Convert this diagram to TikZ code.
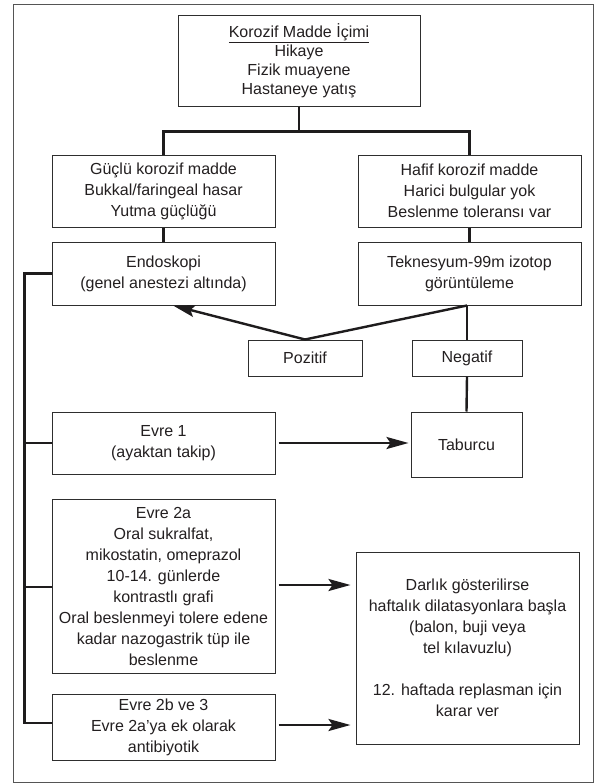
\documentclass[tikz,border=0pt]{standalone}
\usepackage{fontspec}
\setmainfont{Liberation Sans}
\usetikzlibrary{arrows.meta}
\definecolor{boxc}{HTML}{2E2E2E}
\definecolor{lnc}{HTML}{1E1C1D}
\definecolor{txt}{HTML}{231F20}
\definecolor{framec}{HTML}{555555}
\begin{document}
\begin{tikzpicture}[x=1pt,y=-1pt,
  box/.style={draw=boxc, line width=1pt, align=center, inner sep=0pt, text=txt,
    font=\fontsize{16}{21}\selectfont},
  conn/.style={draw=lnc, line width=2.4pt},
  arr/.style={conn, -{Stealth[length=22pt,width=12pt,inset=4pt]}},
]
\useasboundingbox (0,0) rectangle (595,784);
\fill[white] (0,0) rectangle (595,784);
\draw[framec, line width=1pt] (13.5,4.5) rectangle (593,782.5);

\node[box, minimum width=242pt, minimum height=90pt, font=\fontsize{16}{19}\selectfont] (top) at (299,61)
  {\underline{Korozif Madde İçimi}\\Hikaye\\Fizik muayene\\Hastaneye yatış};
\node[box, minimum width=223pt, minimum height=72pt] (G) at (163.5,191)
  {Güçlü korozif madde\\Bukkal/faringeal hasar\\Yutma güçlüğü};
\node[box, minimum width=223pt, minimum height=72pt] (H) at (469.5,191)
  {Hafif korozif madde\\Harici bulgular yok\\Beslenme toleransı var};
\node[box, minimum width=223pt, minimum height=63pt] (Endo) at (163.5,273.5)
  {Endoskopi\\(genel anestezi altında)};
\node[box, minimum width=223pt, minimum height=63pt] (Tek) at (469.5,273.5)
  {Teknesyum-99m izotop\\görüntüleme};
\node[box, minimum width=114pt, minimum height=36pt] (Poz) at (305,358) {Pozitif};
\node[box, minimum width=110pt, minimum height=36pt] (Neg) at (467,358) {Negatif};
\node[box, minimum width=223pt, minimum height=62pt] (E1) at (163.5,443)
  {Evre 1\\(ayaktan takip)};
\node[box, minimum width=111pt, minimum height=65pt] (Tab) at (466.5,444.5) {Taburcu};
\node[box, minimum width=223pt, minimum height=174pt] (E2a) at (163.5,586)
  {Evre 2a\\Oral sukralfat,\\mikostatin, omeprazol\\10-14. günlerde\\kontrastlı grafi\\Oral beslenmeyi tolere edene\\kadar nazogastrik tüp ile\\beslenme};
\node[box, minimum width=223pt, minimum height=66pt] (E2b) at (163.5,727)
  {Evre 2b ve 3\\Evre 2a’ya ek olarak\\antibiyotik};
\node[box, minimum width=223pt, minimum height=192pt] (D) at (467.5,648)
  {Darlık gösterilirse\\haftalık dilatasyonlara başla\\(balon, buji veya\\tel kılavuzlu)\\[21pt]12. haftada replasman için\\karar ver};

% top split
\draw[conn] (top.south) -- ++(0,25) coordinate (j);
\draw[conn] (G.north) |- (j) -| (H.north);
\draw[conn] (G.south) -- (Endo.north);
\draw[conn] (H.south) -- (Tek.north);
% isotope results
\coordinate (tb) at (Neg.north |- Tek.south);
\draw[arr] (Poz.north) -- ([xshift=9.5pt]Endo.south);
\draw[conn] (Poz.north) -- (tb);
\draw[conn] (tb) -- (Neg.north);
\draw[conn] (Neg.south) -- (Tab.north);
% left bus
\coordinate (b2) at ([yshift=4pt]E2b.west);
\coordinate (b2a) at ([yshift=-1pt]E2a.west);
\draw[conn] (Endo.west) -- ++(-27,0) coordinate (bt) -- (bt |- b2) -- (b2);
\draw[conn] (E1.west) -- (E1.west -| bt);
\draw[conn] (b2a) -- (b2a -| bt);
% arrows to the right
\coordinate (a2a) at ([yshift=1pt]E2a.east);
\coordinate (a2b) at ([yshift=2pt]E2b.east);
\draw[arr, shorten <=3pt, shorten >=2pt] (E1.east) -- (E1.east -| Tab.west);
\draw[arr, shorten <=3pt, shorten >=5pt] (a2a) -- (a2a -| D.west);
\draw[arr, shorten <=3pt, shorten >=5pt] (a2b) -- (a2b -| D.west);
\end{tikzpicture}
\end{document}
